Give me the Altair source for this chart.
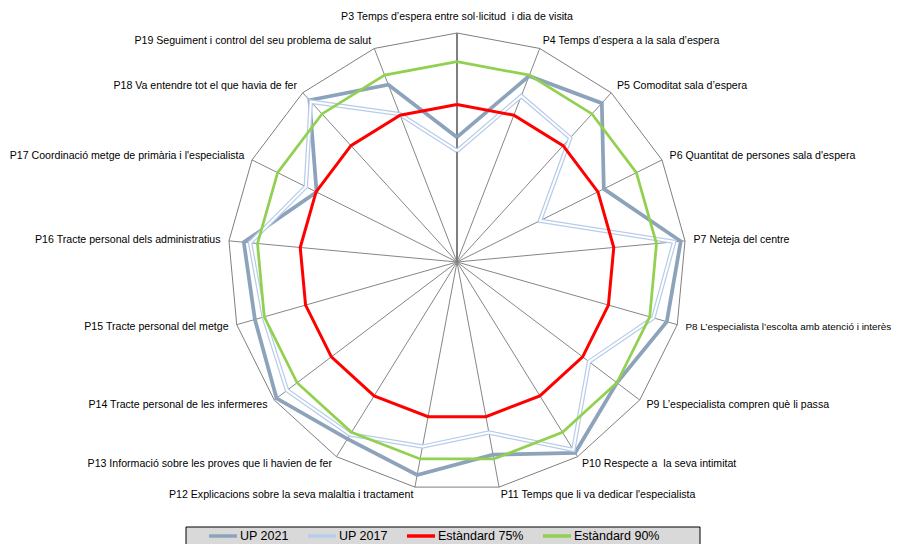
import math
import altair as alt
import pandas as pd

# ---------------- data ----------------
labels = [
    "P3 Temps d’espera entre sol·licitud\u00a0 i dia de visita",
    "P4 Temps d’espera a la sala d’espera",
    "P5 Comoditat sala d’espera",
    "P6 Quantitat de persones sala d'espera",
    "P7 Neteja del centre",
    "P8 L’especialista l’escolta amb atenció i interès",
    "P9 L’especialista compren què li passa",
    "P10 Respecte a\u00a0 la seva intimitat",
    "P11 Temps que li va dedicar l'especialista",
    "P12 Explicacions sobre la seva malaltia i tractament",
    "P13 Informació sobre les proves que li havien de fer",
    "P14 Tracte personal de les infermeres",
    "P15 Tracte personal del metge",
    "P16 Tracte personal dels administratius",
    "P17 Coordinació metge de primària i l'especialista",
    "P18 Va entendre tot el que havia de fer",
    "P19 Seguiment i control del seu problema de salut",
]
up2021 = [63.6, 89.7, 95.1, 77.3, 98.5, 96.2, 90.0, 98.4, 88.5, 95.7, 92.7, 99.0, 93.4, 94.8, 74.8, 96.5, 86.4]
up2017 = [58.8, 82.2, 78.7, 52.4, 96.2, 91.3, 77.8, 97.2, 80.6, 85.6, 90.9, 94.4, 90.2, 92.6, 79.0, 95.8, 75.4]
std75 = [75, 75, 75, 75, 75, 75, 75, 75, 75, 75, 75, 75, 75, 75, 75, 75, 75]
std90 = [90, 90, 90, 90, 90, 90, 90, 90, 90, 90, 90, 90, 90, 90, 90, 90, 90]
series_names = ["UP 2021", "UP 2017", "Estàndard 75%", "Estàndard 90%"]
series_colors = ["#8da3bb", "#b8cde9", "#ff0000", "#92d050"]
AXIS_MIN, AXIS_MAX = 20, 100

# ---------------- layout ----------------
W, H = 889, 536
CX, CY = 449, 254          # centre of the radar in plot pixels
R = 229                    # outer radius in pixels
N = len(labels)
LABEL_R = 1 + 8.5 / R
FONT = "Liberation Sans"
FS = 10.6


def ang(k):
    return 2 * math.pi * k / N


rows = []
for name, vals in zip(series_names, [up2021, up2017, std75, std90]):
    for i in range(N + 1):
        k = i % N
        rn = (vals[k] - AXIS_MIN) / (AXIS_MAX - AXIS_MIN)
        rows.append(dict(series=name, order=i, value=vals[k],
                         x=rn * math.sin(ang(k)), y=rn * math.cos(ang(k))))
lines = pd.DataFrame(rows)

outer = pd.DataFrame([dict(order=i, x=math.sin(ang(i % N)), y=math.cos(ang(i % N)))
                      for i in range(N + 1)])
spokes = pd.DataFrame([dict(k=k, x=0.0, y=0.0, x2=math.sin(ang(k)), y2=math.cos(ang(k)))
                       for k in range(N)])
lab = pd.DataFrame([dict(k=k, text=labels[k],
                         x=LABEL_R * math.sin(ang(k)), y=LABEL_R * math.cos(ang(k)))
                    for k in range(N)])

xs = alt.Scale(domain=[-CX / R, (W - CX) / R], nice=False, zero=False)
ys = alt.Scale(domain=[(CY - H) / R, CY / R], nice=False, zero=False)
X = alt.X("x:Q", scale=xs, axis=None)
Y = alt.Y("y:Q", scale=ys, axis=None)

color = alt.Color(
    "series:N",
    scale=alt.Scale(domain=series_names, range=series_colors),
    legend=alt.Legend(
        title=None, orient="none", legendX=199, legendY=520, direction="horizontal",
        symbolType="stroke", symbolSize=784, symbolStrokeWidth=3.5,
        labelFont=FONT, labelFontSize=12.5, labelColor="black", labelOffset=1,
        columnPadding=17, padding=0, clipHeight=16,
    ),
)

legend_box = alt.Chart(pd.DataFrame({"a": [0]})).mark_rect(
    fill="#d9d9d9", stroke="black", strokeWidth=1
).encode(x=alt.value(178), x2=alt.value(692), y=alt.value(519), y2=alt.value(545))

spoke_layer = alt.Chart(spokes).transform_filter("datum.k > 0").mark_rule(
    color="#868686", strokeWidth=1
).encode(x=X, y=Y, x2="x2:Q", y2="y2:Q")
spoke_main = alt.Chart(spokes).transform_filter("datum.k == 0").mark_rule(
    color="#7f7f7f", strokeWidth=2
).encode(x=X, y=Y, x2="x2:Q", y2="y2:Q")
outer_layer = alt.Chart(outer).mark_line(color="#7f7f7f", strokeWidth=1).encode(
    x=X, y=Y, order="order:Q")


def series_line(name, width):
    return alt.Chart(lines).transform_filter(alt.datum.series == name).mark_line(
        strokeWidth=width, strokeJoin="miter"
    ).encode(x=X, y=Y, order="order:Q", color=color)


l21 = series_line("UP 2021", 3.75)
l17 = series_line("UP 2017", 4.5)
l17w = alt.Chart(lines).transform_filter(alt.datum.series == "UP 2017").mark_line(
    strokeWidth=2, color="white", strokeJoin="miter"
).encode(x=X, y=Y, order="order:Q")
l75 = series_line("Estàndard 75%", 3)
l90 = series_line("Estàndard 90%", 2.75)

txt_left = alt.Chart(lab).transform_filter(
    "datum.k >= 1 && datum.k <= 8 && datum.k != 5").mark_text(
    align="left", baseline="middle", font=FONT, fontSize=FS, color="black"
).encode(x=X, y=Y, text="text:N")
txt_p8 = alt.Chart(lab).transform_filter("datum.k == 5").mark_text(
    align="left", baseline="middle", font=FONT, fontSize=9.9, color="black"
).encode(x=X, y=Y, text="text:N")
txt_right = alt.Chart(lab).transform_filter("datum.k >= 9").mark_text(
    align="right", baseline="middle", font=FONT, fontSize=FS, color="black"
).encode(x=X, y=Y, text="text:N")
txt_top = alt.Chart(lab).transform_filter("datum.k == 0").mark_text(
    align="center", baseline="bottom", font=FONT, fontSize=FS, color="black", dy=-3
).encode(x=X, y=Y, text="text:N")

chart = alt.layer(
    legend_box, spoke_layer, spoke_main, outer_layer,
    l21, l17, l17w, l75, l90, txt_left, txt_p8, txt_right, txt_top,
).properties(
    width=W, height=H, padding=0,
    autosize=alt.AutoSizeParams(type="none"),
    background="white",
).configure_view(stroke=None)

chart.save("out.html", embed_options={"renderer": "svg", "actions": False})
